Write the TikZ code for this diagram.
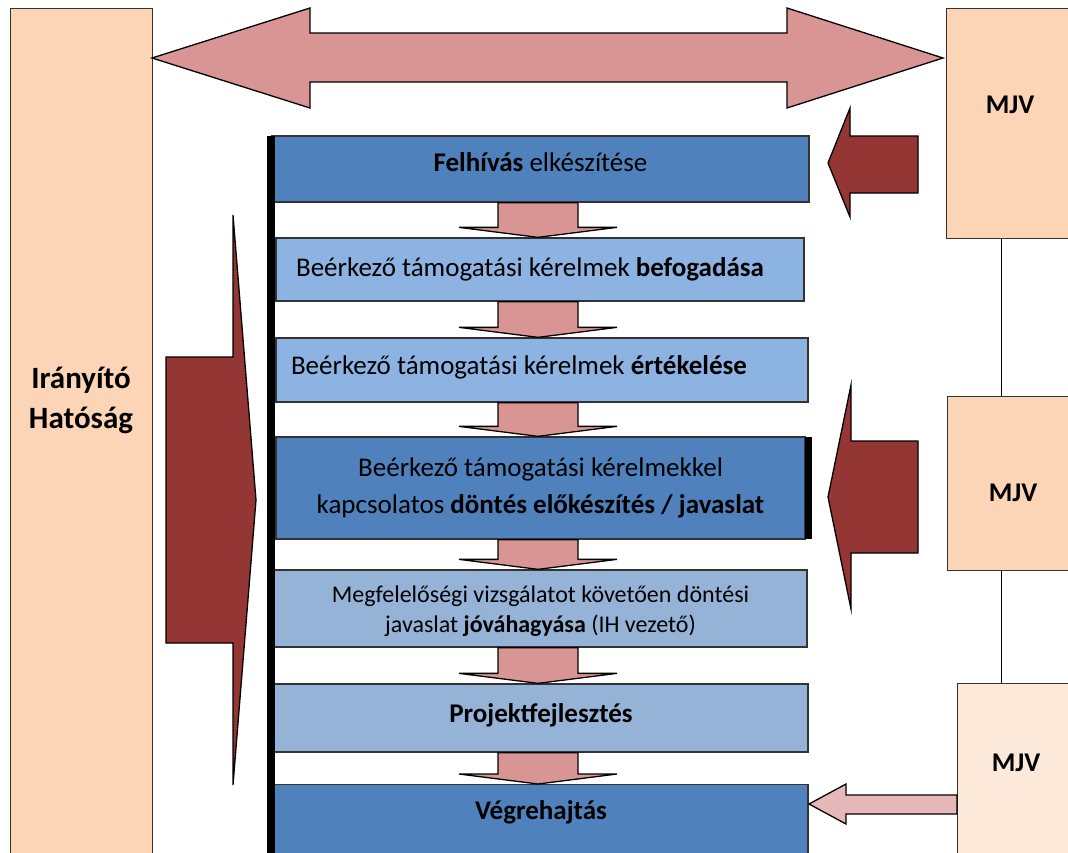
\documentclass[tikz,border=0pt]{standalone}
\usepackage{fontspec}
\setmainfont{Carlito}
\usetikzlibrary{calc}

\definecolor{peach}{HTML}{FBD5B5}
\definecolor{palepeach}{HTML}{FDE9D9}
\definecolor{rosearrow}{HTML}{D99594}
\definecolor{palerose}{HTML}{E6B9B8}
\definecolor{darkred}{HTML}{943634}
\definecolor{stepblue}{HTML}{4F81BD}
\definecolor{lightblue}{HTML}{8DB3E2}
\definecolor{greyblue}{HTML}{95B3D7}

\tikzset{
  stepbox/.style={draw=black!80, line width=1.3pt, inner sep=0pt, align=center,
    font=\fontsize{27}{37}\selectfont},
  actorbox/.style={draw=black!80, line width=1pt, inner sep=0pt, anchor=north west},
  actorlabel/.style={font=\bfseries\fontsize{27}{32}\selectfont, align=center},
  blockarrow/.style={draw=black, line width=1.3pt, line join=miter},
}

% pink block arrow from one step box down to the next
\newcommand\flowarrow[2]{%
  \path let \p1=(#1.south), \p2=(#2.north) in
    [blockarrow, fill=rosearrow]
    (498pt,\y1) -- (578pt,\y1) -- (578pt,{\y2+10pt}) -- (617pt,{\y2+10pt})
    -- (538pt,\y2) -- (459pt,{\y2+10pt}) -- (498pt,{\y2+10pt}) -- cycle;
}
% text set on a baseline shifted from the box centre
\newcommand\shifted[2]{\raisebox{#1}[0pt][0pt]{#2}}

\begin{document}
\begin{tikzpicture}[x=1pt,y=-1pt]
  \clip (0,0) rectangle (1068,852);
  \fill[white] (0,0) rectangle (1068,852);

  % actors
  \node[actorbox, fill=peach, minimum width=142pt, minimum height=900pt] (ih) at (10,8) {};
  \node[actorbox, fill=peach, minimum width=130pt, minimum height=230pt] (mjva) at (946,8) {};
  \node[actorbox, fill=peach, minimum width=130pt, minimum height=174pt] (mjvb) at (947,396) {};
  \node[actorbox, fill=palepeach, minimum width=120pt, minimum height=200pt] (mjvc) at (957,683) {};
  \coordinate (linex) at (1001,0);
  \draw[line width=1pt] (mjva.south -| linex) -- (mjvb.north -| linex);
  \draw[line width=1pt] (mjvb.south -| linex) -- (mjvc.north -| linex);

  % two-way arrow between IH and MJV
  \filldraw[blockarrow, fill=rosearrow] (152,58) -- (310,8) -- (310,33) -- (787,33)
    -- (787,8) -- (943,58) -- (787,108) -- (787,82) -- (310,82) -- (310,108) -- cycle;

  % process steps
  \node[stepbox, fill=stepblue, minimum width=537pt, minimum height=66pt] (felhivas)
    at (540.5,169) {\shifted{-2.6pt}{\textbf{Felhívás} elkészítése}};
  \node[stepbox, fill=lightblue, minimum width=528pt, minimum height=63pt] (befogadas)
    at (540,269.5) {Beérkező támogatási kérelmek \textbf{befogadása}\hspace{20pt}};
  \node[stepbox, fill=lightblue, minimum width=532pt, minimum height=64pt] (ertekeles)
    at (542,370) {\shifted{-4.6pt}{Beérkező támogatási kérelmek \textbf{értékelése}}\hspace{46pt}};
  \node[stepbox, fill=stepblue, minimum width=529pt, minimum height=102pt] (dontes)
    at (540.5,488) {Beérkező támogatási kérelmekkel\\kapcsolatos \textbf{döntés előkészítés / javaslat}};
  \node[stepbox, fill=greyblue, minimum width=533pt, minimum height=77pt,
    font=\fontsize{24}{30}\selectfont] (jovahagyas)
    at (540.5,608.5) {\shifted{-9.5pt}{\begin{tabular}{@{}c@{}}Megfelelőségi vizsgálatot követően döntési\\
      javaslat \textbf{jóváhagyása} (IH vezető)\end{tabular}}};
  \node[stepbox, fill=greyblue, minimum width=534pt, minimum height=68pt] (projekt)
    at (541,718) {\shifted{-4.6pt}{\textbf{Projektfejlesztés}}};
  \node[stepbox, fill=stepblue, minimum width=534pt, minimum height=116pt, anchor=north] (vegrehajtas)
    at (541,784) {};
  \node[font=\bfseries\fontsize{27}{32}\selectfont] (vegrehajtaslabel)
    at ([yshift=-28pt]vegrehajtas.north) {Végrehajtás};

  \flowarrow{felhivas}{befogadas}
  \flowarrow{befogadas}{ertekeles}
  \flowarrow{ertekeles}{dontes}
  \flowarrow{dontes}{jovahagyas}
  \flowarrow{jovahagyas}{projekt}
  \flowarrow{projekt}{vegrehajtas}

  % MJV input arrows
  \filldraw[blockarrow, fill=darkred] (828,163) -- (850,108) -- (850,136) -- (918,136)
    -- (918,193) -- (850,193) -- (850,217) -- cycle;
  \filldraw[blockarrow, fill=darkred] (828,497) -- (851,385) -- (851,441) -- (918,441)
    -- (918,553) -- (851,553) -- (851,609) -- cycle;
  \filldraw[blockarrow, fill=palerose] (809,804) -- (846,784) -- (846,795) -- (957,795)
    -- (957,814) -- (846,814) -- (846,824) -- cycle;

  % IH arrow into the process
  \filldraw[blockarrow, fill=darkred] (256,500) -- (233,785) -- (233,643) -- (166,643)
    -- (166,357) -- (233,357) -- (233,215) -- cycle;

  % black bars
  \draw[line width=8pt] (271,136) -- (271,860);
  \fill (805,437) rectangle (812,539);

  % actor labels
  \node[actorlabel, font=\bfseries\fontsize{31}{40}\selectfont] (ihlabel) at (81,400) {Irányító\\Hatóság};
  \node[actorlabel] (mjvalabel) at (1010,105) {MJV};
  \node[actorlabel] (mjvblabel) at (1013,493) {MJV};
  \node[actorlabel] (mjvclabel) at (1016,763) {MJV};
\end{tikzpicture}
\end{document}
